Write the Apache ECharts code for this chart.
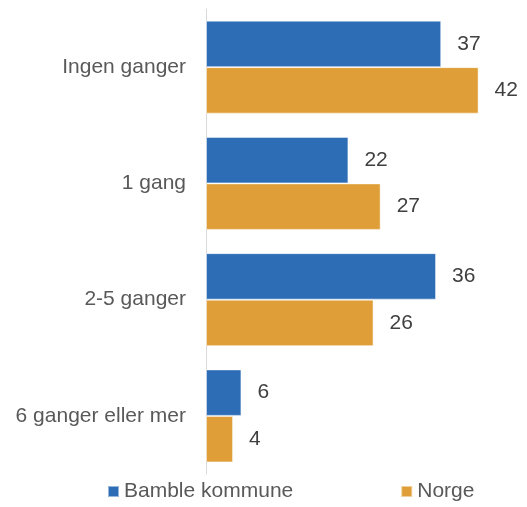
<!DOCTYPE html>
<html>
<head>
<meta charset="utf-8">
<script src="https://cdn.jsdelivr.net/npm/echarts@6/dist/echarts.min.js"></script>
<style>
  html, body { margin: 0; padding: 0; background: #fff; }
  #chart { width: 527px; height: 507px; }
</style>
</head>
<body>
<div id="chart"></div>
<script>
const categories = ['Ingen ganger', '1 gang', '2-5 ganger', '6 ganger eller mer']
const bamble = [36.5, 22.1, 35.7, 5.5]
const norge = [42.3, 27.1, 26.0, 4.2]
const seriesNames = ['Bamble kommune', 'Norge']

const chart = echarts.init(document.getElementById('chart'))
const font = 'Liberation Sans, Arial, sans-serif'
const labelStyle = {
  show: true,
  position: 'right',
  distance: 16,
  fontFamily: font,
  fontSize: 21,
  color: '#404040',
  formatter: (p) => Math.round(p.value)
}

chart.setOption({
  animation: false,
  grid: { left: 206, top: 9, bottom: 33, right: 31 },
  legend: {
    data: seriesNames,
    bottom: 0,
    left: 102,
    icon: 'rect',
    itemWidth: 11,
    itemHeight: 11,
    itemGap: 107,
    textStyle: { fontFamily: font, fontSize: 21, color: '#595959' }
  },
  xAxis: {
    type: 'value',
    min: 0,
    max: 45,
    show: false
  },
  yAxis: {
    type: 'category',
    data: categories,
    inverse: true,
    axisLine: { lineStyle: { color: '#d9d9d9', width: 1 } },
    axisTick: { show: false },
    axisLabel: { fontFamily: font, fontSize: 21, color: '#595959', margin: 20 }
  },
  series: [
    {
      name: seriesNames[0],
      type: 'bar',
      data: bamble,
      barGap: 0,
      barCategoryGap: '20%',
      itemStyle: { color: '#2D6DB5', borderColor: 'rgba(255,255,255,0.5)', borderWidth: 1 },
      label: labelStyle
    },
    {
      name: seriesNames[1],
      type: 'bar',
      data: norge,
      itemStyle: { color: '#DF9E37', borderColor: 'rgba(255,255,255,0.5)', borderWidth: 1 },
      label: labelStyle
    }
  ]
})
</script>
</body>
</html>
